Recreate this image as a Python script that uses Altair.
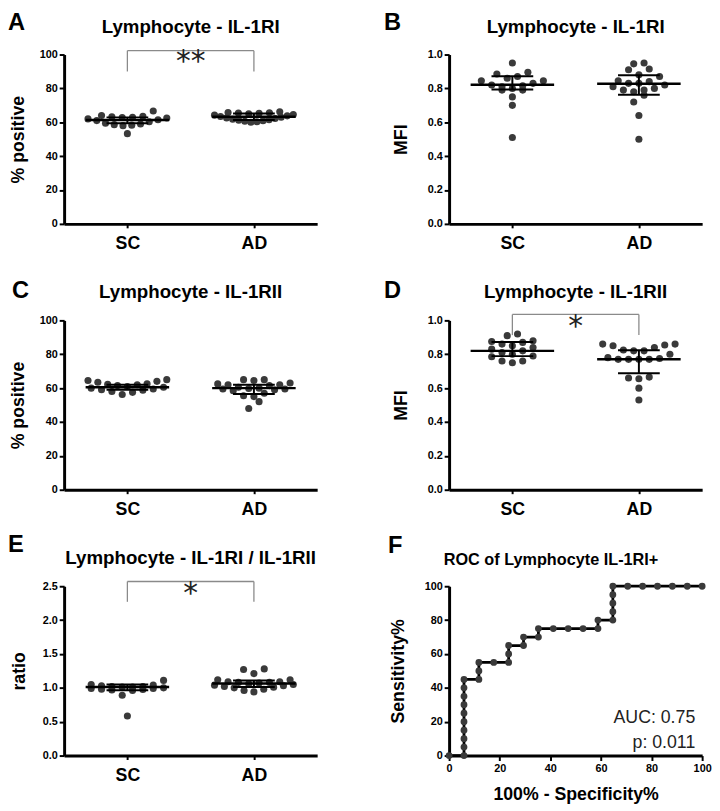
import altair as alt
import pandas as pd
import numpy as np

FONT = "Liberation Sans"
DOT = "#3a3a3a"
W, H = 257, 172

GROUPS = ["SC", "AD"]
GROUP_POS = [1, 3]

# ---- Panel A: Lymphocyte - IL-1RI, % positive
A_SC = [66.7, 64.0, 63.6, 63.3, 63.0, 62.8, 62.5, 62.0, 61.5, 61.0, 60.3, 59.5, 59.0, 58.6, 58.3, 58.0, 53.3]
A_AD = [66.2, 65.8, 65.6, 65.5, 65.3, 65.0, 64.6, 64.2, 63.8, 63.4, 63.0, 62.6, 62.2, 61.8, 61.5, 61.2, 60.9, 60.6, 60.3, 60.0]
A_MED, A_Q1, A_Q3 = [61.3, 63.3], [59.4, 61.4], [62.9, 65.2]

# ---- Panel B: Lymphocyte - IL-1RI, MFI
B_SC = [0.95, 0.895, 0.885, 0.87, 0.86, 0.845, 0.845, 0.83, 0.82, 0.815, 0.81, 0.80, 0.79, 0.79, 0.75, 0.70, 0.51]
B_AD = [0.95, 0.945, 0.915, 0.91, 0.88, 0.87, 0.845, 0.84, 0.83, 0.83, 0.82, 0.81, 0.80, 0.79, 0.79, 0.78, 0.76, 0.72, 0.64, 0.50]
B_MED, B_Q1, B_Q3 = [0.822, 0.827], [0.793, 0.762], [0.872, 0.878]

# ---- Panel C: Lymphocyte - IL-1RII, % positive
C_SC = [65.0, 64.5, 64.0, 63.5, 62.5, 62.2, 62.0, 61.5, 61.0, 60.5, 60.0, 59.5, 59.0, 58.8, 58.0, 57.5, 56.2]
C_AD = [65.0, 65.0, 64.5, 63.0, 62.5, 62.0, 62.0, 61.5, 60.5, 60.0, 59.8, 59.5, 59.5, 59.0, 58.5, 57.0, 55.5, 55.0, 52.0, 48.0]
C_MED, C_Q1, C_Q3 = [60.5, 60.0], [59.1, 56.5], [62.0, 62.0]

# ---- Panel D: Lymphocyte - IL-1RII, MFI
D_SC = [0.92, 0.91, 0.88, 0.875, 0.87, 0.86, 0.85, 0.84, 0.83, 0.82, 0.81, 0.80, 0.79, 0.785, 0.76, 0.76, 0.75]
D_AD = [0.86, 0.86, 0.855, 0.85, 0.84, 0.825, 0.82, 0.82, 0.80, 0.78, 0.775, 0.77, 0.77, 0.77, 0.77, 0.665, 0.66, 0.655, 0.60, 0.53]
D_MED, D_Q1, D_Q3 = [0.820, 0.771], [0.789, 0.688], [0.872, 0.824]

# ---- Panel E: ratio IL-1RI / IL-1RII
E_SC = [1.11, 1.05, 1.04, 1.03, 1.02, 1.02, 1.01, 1.01, 1.00, 0.99, 0.99, 0.98, 0.975, 0.97, 0.96, 0.89, 0.585]
E_AD = [1.28, 1.27, 1.21, 1.12, 1.12, 1.09, 1.09, 1.08, 1.08, 1.07, 1.06, 1.05, 1.04, 1.03, 1.02, 1.01, 1.00, 0.98, 0.96, 0.94]
E_MED, E_Q1, E_Q3 = [1.013, 1.063], [0.965, 1.013], [1.048, 1.11]

# significance brackets: (top, drop bottom, star y, label)
A_BR = (102.3, 90.0, 97.0, "**")
D_BR = (1.035, 0.913, 0.98, "*")
E_BR = (2.57, 2.27, 2.43, "*")

# ---- Panel F: ROC
ROC_K = [0, 1, 1, 1, 1, 1, 1, 1, 1, 1, 1, 2, 2, 2, 3, 4, 4, 4, 5, 5, 6, 6, 7, 8, 9, 10, 10,
         11, 11, 11, 11, 11, 12, 13, 14, 15, 16, 17]
ROC_SENS = [0, 0, 5, 10, 15, 20, 25, 30, 35, 40, 45, 45, 50, 55, 55, 55, 60, 65, 65, 70, 70, 75,
            75, 75, 75, 75, 80, 80, 85, 90, 95, 100, 100, 100, 100, 100, 100, 100]
N_SC = 17
AUC_TXT = ["AUC: 0.75", "p: 0.011"]

MED_HALF = 0.66
WH_HALF = 0.33
ROW_H = 8.0       # px height of a scatter row
SPACING = 10.5    # px between neighbours in a row
MAX_SPAN = 80.0   # px max width of a row


def swarm(values, ppu_y, ppu_x):
    """Column-scatter layout: rows of close values, lowest in the centre."""
    vals = np.asarray(values, float)
    order = np.argsort(vals, kind="stable")
    offs = np.zeros(len(vals))
    rows, cur, start = [], [], None
    for i in order:
        y = vals[i] * ppu_y
        if cur and y - start >= ROW_H:
            rows.append(cur)
            cur = []
        if not cur:
            start = y
        cur.append(i)
    if cur:
        rows.append(cur)
    for r in rows:
        n = len(r)
        sx = SPACING if n < 2 else min(SPACING, MAX_SPAN / (n - 1))
        if n % 2:
            slots = [0.0] + [s * k for k in range(1, n) for s in (-1, 1)]
        else:
            slots = [s * (k - 0.5) for k in range(1, n) for s in (-1, 1)]
        for idx, slot in zip(r, slots[:n]):
            offs[idx] = slot * sx
    return offs / ppu_x


def text_layer(txt, x, y, size, weight="bold", align="left", baseline="alphabetic", font=FONT, color="black"):
    return alt.Chart(pd.DataFrame({"t": [txt]})).mark_text(
        fontSize=size, fontWeight=weight, align=align, baseline=baseline, font=font, color=color
    ).encode(text="t:N", x=alt.value(x), y=alt.value(y))


def dot_panel(letter, lpos, title, tdy, ytitle, tpad, sc, ad, med, q1, q3, ydom, yticks, yfmt, bracket=None):
    ppu_y = H / (ydom[1] - ydom[0])
    ppu_x = W / 4.0
    rows = []
    for g, pos, vals in zip(GROUPS, GROUP_POS, [sc, ad]):
        offs = swarm(vals, ppu_y, ppu_x)
        for v, o in zip(vals, offs):
            rows.append({"group": g, "x": pos + o, "y": v})
    pts = pd.DataFrame(rows)
    summ = pd.DataFrame({"group": GROUPS, "pos": GROUP_POS, "med": med, "q1": q1, "q3": q3})
    summ["ml"] = summ["pos"] - MED_HALF
    summ["mr"] = summ["pos"] + MED_HALF
    summ["wl"] = summ["pos"] - WH_HALF
    summ["wr"] = summ["pos"] + WH_HALF

    xscale = alt.Scale(domain=[0, 4], nice=False, zero=False)
    yscale = alt.Scale(domain=list(ydom), nice=False)
    xaxis = alt.Axis(values=GROUP_POS, labelExpr="datum.value == 1 ? 'SC' : 'AD'", title=None,
                     labelFontSize=18, labelPadding=7, tickSize=4, labelOverlap=False)
    yaxis = alt.Axis(values=yticks, format=yfmt, title=ytitle, titlePadding=tpad,
                     labelOverlap=False, tickCount=len(yticks))

    def X(f):
        return alt.X(f, scale=xscale, axis=xaxis)

    def Y(f):
        return alt.Y(f, scale=yscale, axis=yaxis)

    layers = [
        alt.Chart(pts).mark_circle(size=52, color=DOT, opacity=1).encode(x=X("x:Q"), y=Y("y:Q")),
        alt.Chart(summ).mark_rule(color="black", strokeWidth=2.5).encode(x=X("ml:Q"), x2="mr:Q", y=Y("med:Q")),
        alt.Chart(summ).mark_rule(color="black", strokeWidth=2).encode(x=X("wl:Q"), x2="wr:Q", y=Y("q1:Q")),
        alt.Chart(summ).mark_rule(color="black", strokeWidth=2).encode(x=X("wl:Q"), x2="wr:Q", y=Y("q3:Q")),
        alt.Chart(summ).mark_rule(color="black", strokeWidth=2).encode(x=X("pos:Q"), y=Y("q1:Q"), y2="q3:Q"),
    ]
    if bracket is not None:
        top, bot, sy, lab = bracket
        br = pd.DataFrame({"x1": [GROUP_POS[0], GROUP_POS[0], GROUP_POS[1]],
                           "x2": [GROUP_POS[1], GROUP_POS[0], GROUP_POS[1]],
                           "y1": [top, top, top], "y2": [top, bot, bot]})
        layers.append(alt.Chart(br).mark_rule(color="#8a8a8a", strokeWidth=1.3).encode(
            x=X("x1:Q"), x2="x2:Q", y=Y("y1:Q"), y2="y2:Q"))
        st = pd.DataFrame({"x": [sum(GROUP_POS) / 2], "y": [sy], "t": [lab]})
        layers.append(alt.Chart(st).mark_text(font="DejaVu Sans", fontSize=30, baseline="middle",
                                              dy=3, color="#222222").encode(
            x=X("x:Q"), y=Y("y:Q"), text="t:N"))
    layers.append(text_layer(letter, lpos[0], lpos[1], 24))
    layers.append(text_layer(title, W / 2, tdy, 19, align="center"))
    return alt.layer(*layers).properties(width=W, height=H)


pA = dot_panel("A", (-57, -25), "Lymphocyte - IL-1RI", -22, "% positive", 12, A_SC, A_AD, A_MED, A_Q1, A_Q3,
               (0, 100), [0, 20, 40, 60, 80, 100], "d", A_BR)
pB = dot_panel("B", (-66, -25), "Lymphocyte - IL-1RI", -22, "MFI", 17, B_SC, B_AD, B_MED, B_Q1, B_Q3,
               (0, 1.0), [0, 0.2, 0.4, 0.6, 0.8, 1.0], ".1f")
pC = dot_panel("C", (-53, -23), "Lymphocyte - IL-1RII", -23, "% positive", 12, C_SC, C_AD, C_MED, C_Q1, C_Q3,
               (0, 100), [0, 20, 40, 60, 80, 100], "d")
pD = dot_panel("D", (-66, -23), "Lymphocyte - IL-1RII", -23, "MFI", 17, D_SC, D_AD, D_MED, D_Q1, D_Q3,
               (0, 1.0), [0, 0.2, 0.4, 0.6, 0.8, 1.0], ".1f", D_BR)
pE = dot_panel("E", (-57, -35), "Lymphocyte - IL-1RI / IL-1RII", -23, "ratio", 14, E_SC, E_AD, E_MED, E_Q1, E_Q3,
               (0, 2.5), [0, 0.5, 1.0, 1.5, 2.0, 2.5], ".1f", E_BR)

# ROC panel
roc = pd.DataFrame({"i": list(range(len(ROC_K))),
                    "fpr": [k * 100.0 / N_SC for k in ROC_K],
                    "sens": ROC_SENS})
fx = alt.Scale(domain=[0, 100], nice=False)
fy = alt.Scale(domain=[0, 100], nice=False)
fxa = alt.Axis(values=[0, 20, 40, 60, 80, 100], title="100% - Specificity%", labelPadding=2, titlePadding=13,
               labelOverlap=False)
fya = alt.Axis(values=[0, 20, 40, 60, 80, 100], title="Sensitivity%", titlePadding=17, labelOverlap=False,
               tickCount=6)
roc_line = alt.Chart(roc).mark_line(color="black", strokeWidth=2.8).encode(
    x=alt.X("fpr:Q", scale=fx, axis=fxa), y=alt.Y("sens:Q", scale=fy, axis=fya), order="i:Q")
roc_pts = alt.Chart(roc).mark_circle(size=48, color=DOT, opacity=1).encode(
    x=alt.X("fpr:Q", scale=fx, axis=fxa), y=alt.Y("sens:Q", scale=fy, axis=fya))
pF = alt.layer(
    roc_line, roc_pts,
    text_layer(AUC_TXT[0], W - 7, 139, 18, weight="normal", align="right", color="#222222"),
    text_layer(AUC_TXT[1], W - 7, 164, 18, weight="normal", align="right", color="#222222"),
    text_layer("F", -62, -34, 24),
    text_layer("ROC of Lymphocyte IL-1RI+", W / 2 - 25, -22, 16.5, align="center"),
).properties(width=W, height=H)

chart = alt.concat(pA, pB, pC, pD, pE, pF, columns=2, spacing={"row": 98, "column": 134},
                   bounds="flush").properties(
    padding={"left": 0, "top": -3, "right": 0, "bottom": 0}
).configure_view(stroke=None).configure_axis(
    domainColor="black", domainWidth=3, tickColor="black", tickWidth=2, tickSize=5,
    labelColor="black", labelFont=FONT, labelFontWeight="bold", labelFontSize=11, labelPadding=2,
    labelFlush=False,
    titleColor="black", titleFont=FONT, titleFontWeight="bold", titleFontSize=18, grid=False
).configure_text(font=FONT)

chart.save("out.html", embed_options={"renderer": "svg", "actions": False})
